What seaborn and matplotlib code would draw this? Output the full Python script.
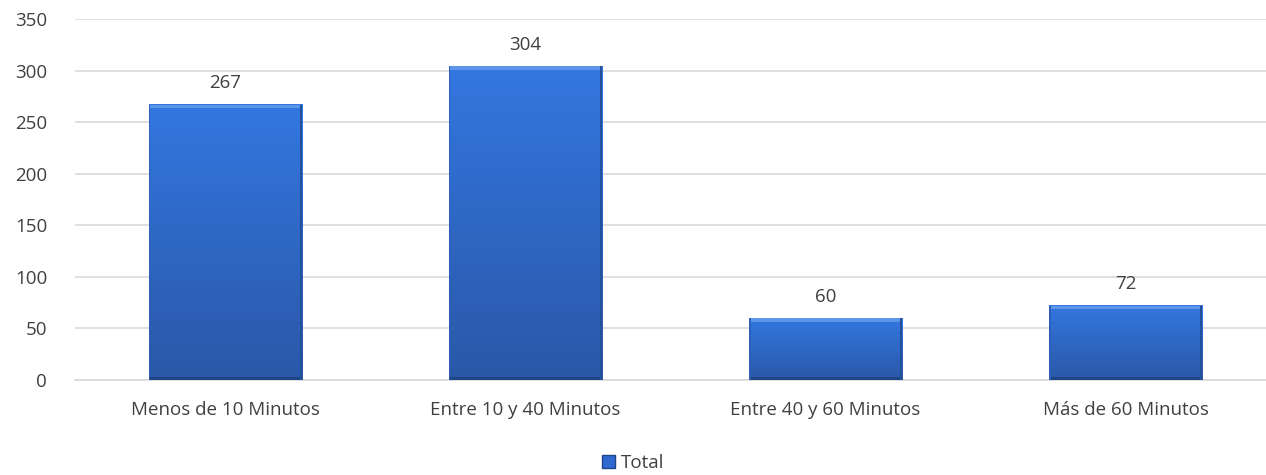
#!/usr/bin/env python3
"""Bar chart: tiempo de traslado (Total)."""

import numpy as np
import pandas as pd
import matplotlib
matplotlib.use("Agg")
import matplotlib.pyplot as plt
import seaborn as sns
from matplotlib.colors import LinearSegmentedColormap
from matplotlib.patches import Rectangle

categories = ["Menos de 10 Minutos", "Entre 10 y 40 Minutos",
              "Entre 40 y 60 Minutos", "Más de 60 Minutos"]
totals = [267, 304, 60, 72]
yticks = [0, 50, 100, 150, 200, 250, 300, 350]

TEXT = "#404040"
GRID = "#D9D9D9"
BLUE = "#2F69CF"
FS = 13.5


def main():
    sns.set_theme(style="white")
    plt.rcParams["font.family"] = ["Open Sans", "DejaVu Sans"]

    df = pd.DataFrame({"categoria": categories, "total": totals})

    fig = plt.figure(figsize=(12.66, 4.75), dpi=100)
    ax = fig.add_axes([75 / 1266, 95 / 475, 1201 / 1266, 361 / 475])

    sns.barplot(data=df, x="categoria", y="total", color=BLUE, width=0.51,
                saturation=1, ax=ax, zorder=2)

    # gradient + bevel look on each bar
    cmap = LinearSegmentedColormap.from_list("bar", ["#2A58A8", "#3377E0"])
    grad = np.linspace(0, 1, 256).reshape(-1, 1)
    for p in ax.patches:
        x0, w, h = p.get_x(), p.get_width(), p.get_height()
        p.set_alpha(0)
        ax.imshow(grad, extent=(x0, x0 + w, 0, h), origin="lower",
                  cmap=cmap, aspect="auto", zorder=3)
        ax.add_patch(Rectangle((x0, h - 3.5), w, 3.5, color="#5C95EA",
                               lw=0, zorder=4))
        ax.add_patch(Rectangle((x0, 0), w, 2.5, color="#1F4586",
                               lw=0, zorder=4))
        ax.add_patch(Rectangle((x0 + w - 0.007, 0), 0.007, h, color="#24509C",
                               lw=0, zorder=4))
        ax.add_patch(Rectangle((x0, 0), 0.005, h, color="#2C5FB8",
                               lw=0, zorder=4))
        ax.text(x0 + w / 2, h + 12, f"{int(round(h))}", ha="center",
                va="bottom", fontsize=FS, color=TEXT, zorder=5)

    ax.set_xlim(-0.5, 3.5)
    ax.set_ylim(0, 350)
    ax.set_yticks(yticks)
    ax.set_yticklabels([str(v) for v in yticks])
    ax.yaxis.grid(True, color=GRID, lw=1.2, zorder=0)
    ax.set_axisbelow(True)
    for s in ["top", "right", "left"]:
        ax.spines[s].set_visible(False)
    ax.spines["bottom"].set_color(GRID)
    ax.spines["bottom"].set_linewidth(1.2)

    ax.set_xticks([-0.5, 0.5, 1.5, 2.5, 3.5], minor=False)
    ax.set_xticklabels([])
    ax.tick_params(axis="x", which="major", length=6, color=GRID, width=1.2,
                   direction="out")
    ax.set_xticks(range(4), minor=True)
    ax.set_xticklabels(categories, minor=True)
    ax.tick_params(axis="x", which="minor", length=0, pad=15,
                   labelsize=FS, labelcolor=TEXT)
    ax.tick_params(axis="y", length=0, pad=20, labelsize=FS,
                   labelcolor=TEXT)
    ax.set_xlabel("")
    ax.set_ylabel("")
    if ax.get_legend() is not None:
        ax.get_legend().remove()

    handle = Rectangle((0, 0), 1, 1, facecolor=BLUE, edgecolor="#1F4586")
    fig.legend([handle], ["Total"], loc="center",
               bbox_to_anchor=(633 / 1266, 1 - 463 / 475),
               frameon=False, fontsize=FS, handlelength=0.7,
               handleheight=0.7, handletextpad=0.3, labelcolor=TEXT)

    fig.savefig("out.png", dpi=100, facecolor="white")
    plt.close(fig)


if __name__ == "__main__":
    main()
